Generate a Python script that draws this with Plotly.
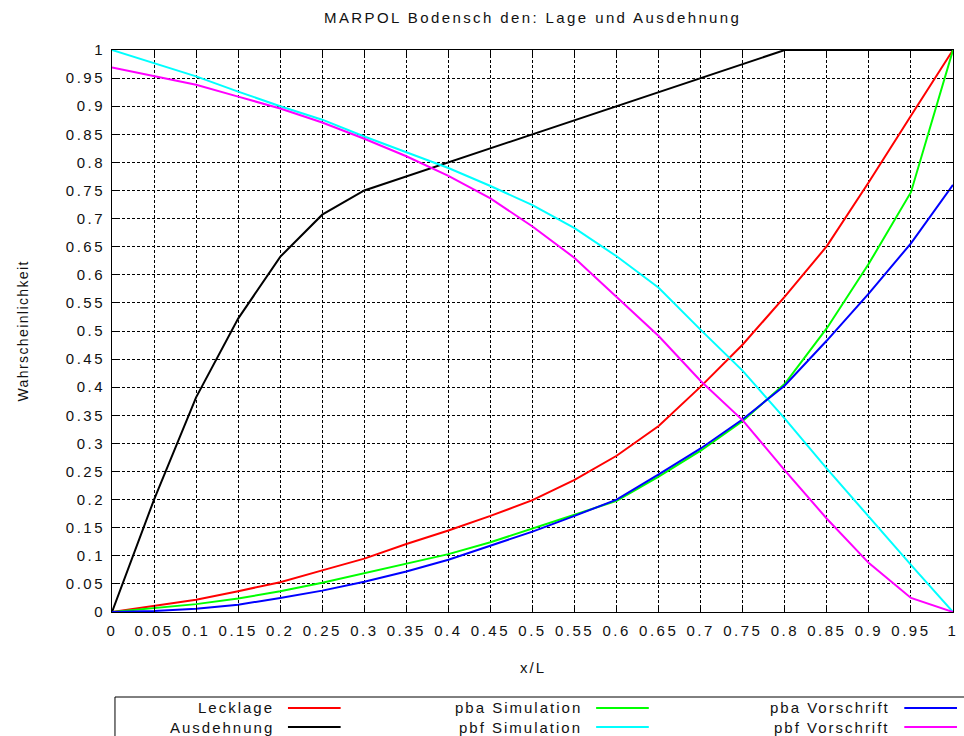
import plotly.graph_objects as go

# x/L stations (every 0.05 along the ship length)
x_over_L = [0.00, 0.05, 0.10, 0.15, 0.20, 0.25, 0.30, 0.35, 0.40, 0.45, 0.50,
            0.55, 0.60, 0.65, 0.70, 0.75, 0.80, 0.85, 0.90, 0.95, 1.00]

lecklage = [0.000, 0.011, 0.022, 0.037, 0.053, 0.074, 0.095, 0.121, 0.145, 0.171, 0.199,
            0.235, 0.278, 0.331, 0.401, 0.476, 0.561, 0.651, 0.765, 0.883, 1.000]
ausdehnung = [0.000, 0.200, 0.382, 0.522, 0.632, 0.707, 0.750, 0.775, 0.800, 0.825, 0.850,
              0.875, 0.900, 0.925, 0.950, 0.975, 1.000, 1.000, 1.000, 1.000, 1.000]
pba_simulation = [0.000, 0.007, 0.014, 0.024, 0.037, 0.052, 0.069, 0.085, 0.103, 0.124, 0.148,
                  0.173, 0.198, 0.241, 0.287, 0.340, 0.406, 0.505, 0.620, 0.747, 1.000]
pbf_simulation = [1.000, 0.976, 0.953, 0.926, 0.900, 0.876, 0.846, 0.818, 0.790, 0.758, 0.724,
                  0.683, 0.633, 0.577, 0.502, 0.429, 0.344, 0.255, 0.169, 0.084, 0.000]
pba_vorschrift = [0.000, 0.002, 0.006, 0.013, 0.025, 0.038, 0.054, 0.072, 0.093, 0.118, 0.143,
                  0.171, 0.200, 0.245, 0.291, 0.343, 0.403, 0.483, 0.567, 0.656, 0.760]
pbf_vorschrift = [0.969, 0.954, 0.938, 0.917, 0.896, 0.871, 0.842, 0.811, 0.776, 0.736, 0.686,
                  0.630, 0.560, 0.491, 0.411, 0.341, 0.252, 0.166, 0.087, 0.025, 0.000]

series_names = ["Lecklage", "Ausdehnung", "pba Simulation", "pbf Simulation",
                "pba Vorschrift", "pbf Vorschrift"]
series_values = [lecklage, ausdehnung, pba_simulation, pbf_simulation,
                 pba_vorschrift, pbf_vorschrift]
series_colors = ["#ff0000", "#000000", "#00ff00", "#00ffff", "#0000ff", "#ff00ff"]

x_ticks = [0, 0.05, 0.1, 0.15, 0.2, 0.25, 0.3, 0.35, 0.4, 0.45, 0.5,
           0.55, 0.6, 0.65, 0.7, 0.75, 0.8, 0.85, 0.9, 0.95, 1]
x_tick_labels = ["0", "0.05", "0.1", "0.15", "0.2", "0.25", "0.3", "0.35", "0.4", "0.45", "0.5",
                 "0.55", "0.6", "0.65", "0.7", "0.75", "0.8", "0.85", "0.9", "0.95", "1"]
y_ticks = x_ticks
y_tick_labels = x_tick_labels

title_text = "MARPOL Bodensch den: Lage und Ausdehnung"
x_title = "x/L"
y_title = "Wahrscheinlichkeit"

FONT = "Liberation Sans"
TEXT_COLOR = "#111111"
W, H = 964, 736
L_M, R_M, T_M, B_M = 112, 6, 50, 124
PW, PH = W - L_M - R_M, H - T_M - B_M


def px_x(px):
    return (px - L_M) / PW


def px_y(py):
    return (H - B_M - py) / PH


def spaced(text, ls):
    # loosely tracked text, as in the terminal font
    return f'<span style="letter-spacing:{ls}px">{text}</span>'


fig = go.Figure()
for name, vals, col in zip(series_names, series_values, series_colors):
    fig.add_trace(go.Scatter(x=x_over_L, y=vals, mode="lines", name=name,
                             line=dict(color=col, width=2), showlegend=False))

axis_common = dict(
    range=[0, 1], showline=True, linecolor="black", linewidth=1, mirror="allticks",
    ticks="inside", ticklen=7, tickcolor="black", tickwidth=1,
    showgrid=True, gridcolor="black", gridwidth=1, griddash="3px,2px",
    zeroline=False, tickfont=dict(family=FONT, size=15, color=TEXT_COLOR),
)
fig.update_xaxes(tickvals=x_ticks, ticktext=[spaced(t, 2.5) for t in x_tick_labels],
                 ticklabelstandoff=5, **axis_common)
fig.update_yaxes(tickvals=y_ticks, ticktext=[spaced(t, 2.5) for t in y_tick_labels],
                 ticklabelstandoff=3, **axis_common)

annotations = [
    dict(text=spaced(title_text, 2.4), xref="paper", yref="paper", x=0.5, y=px_y(18),
         xanchor="center", yanchor="middle", showarrow=False,
         font=dict(family=FONT, size=15, color=TEXT_COLOR)),
    dict(text=spaced(x_title, 2), xref="paper", yref="paper", x=0.5, y=px_y(667),
         xanchor="center", yanchor="middle", showarrow=False,
         font=dict(family=FONT, size=15, color=TEXT_COLOR)),
    dict(text=spaced(y_title, 1.4), xref="paper", yref="paper", x=px_x(22), y=px_y(331),
         xanchor="center", yanchor="middle", showarrow=False, textangle=-90,
         font=dict(family=FONT, size=14, color=TEXT_COLOR)),
]

shapes = [
    dict(type="rect", xref="paper", yref="paper", x0=px_x(115), x1=px_x(975),
         y0=px_y(745), y1=px_y(697), line=dict(color="black", width=1),
         fillcolor="rgba(0,0,0,0)"),
]

# key: two entries per column, label right-aligned before its line sample
col_text_right = [277, 587, 897]
col_line = [(289, 342), (599, 652), (909, 962)]
row_y = [708, 727]
for i, (name, col) in enumerate(zip(series_names, series_colors)):
    c, r = divmod(i, 2)
    annotations.append(dict(text=spaced(name, 2), xref="paper", yref="paper",
                            x=px_x(col_text_right[c]), y=px_y(row_y[r]),
                            xanchor="right", yanchor="middle", showarrow=False,
                            font=dict(family=FONT, size=15, color=TEXT_COLOR)))
    shapes.append(dict(type="line", xref="paper", yref="paper",
                       x0=px_x(col_line[c][0]), x1=px_x(col_line[c][1]),
                       y0=px_y(row_y[r]), y1=px_y(row_y[r]),
                       line=dict(color=col, width=2)))

fig.update_layout(
    width=W, height=H, margin=dict(l=L_M, r=R_M, t=T_M, b=B_M),
    plot_bgcolor="white", paper_bgcolor="white", showlegend=False,
    font=dict(family=FONT, size=15, color=TEXT_COLOR),
    annotations=annotations, shapes=shapes,
)

fig.write_html("out.html")
